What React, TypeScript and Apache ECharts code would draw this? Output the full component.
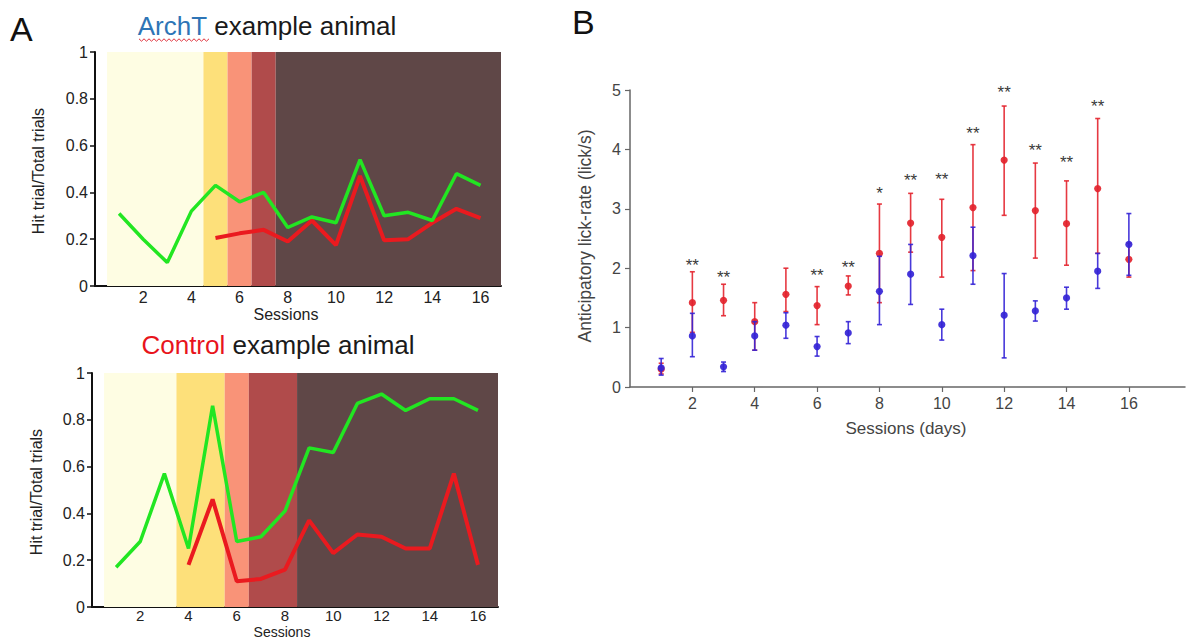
import React, { useEffect, useRef } from "react";
import * as echarts from "echarts";

// ---------- Panel A data ----------
const sessions = [1, 2, 3, 4, 5, 6, 7, 8, 9, 10, 11, 12, 13, 14, 15, 16];
const archtHitGreen = [0.31, 0.2, 0.1, 0.32, 0.43, 0.36, 0.4, 0.25, 0.295, 0.27, 0.54, 0.3, 0.315, 0.28, 0.48, 0.43];
const archtHitRed = [null, null, null, null, 0.205, 0.225, 0.24, 0.19, 0.28, 0.175, 0.47, 0.195, 0.2, 0.27, 0.33, 0.29];
const controlHitGreen = [0.17, 0.28, 0.57, 0.25, 0.86, 0.28, 0.3, 0.41, 0.68, 0.66, 0.87, 0.91, 0.84, 0.89, 0.89, 0.84];
const controlHitRed = [null, null, null, 0.18, 0.46, 0.11, 0.12, 0.16, 0.37, 0.23, 0.31, 0.3, 0.25, 0.25, 0.57, 0.18];
const archtBandEdges = [0.5, 4.5, 5.5, 6.5, 7.5, 16.85];
const controlBandEdges = [0.5, 3.5, 5.5, 6.5, 8.5, 16.83];
const bandColors = ["#fefde3", "#fde07a", "#f99378", "#b04b4b", "#5f4747"];
const aYTicks = [0, 0.2, 0.4, 0.6, 0.8, 1];
const aXTicks = [2, 4, 6, 8, 10, 12, 14, 16];

// ---------- Panel B data ----------
const ctrlMean = [0.3, 1.42, 1.46, 1.1, 1.56, 1.37, 1.7, 2.25, 2.76, 2.52, 3.02, 3.82, 2.97, 2.75, 3.34, 2.15];
const ctrlLow = [0.22, 0.92, 1.2, 0.62, 1.27, 1.05, 1.55, 1.42, 2.27, 1.85, 1.96, 2.89, 2.17, 2.05, 2.25, 1.85];
const ctrlHigh = [0.4, 1.94, 1.73, 1.42, 2.0, 1.69, 1.87, 3.08, 3.26, 3.16, 4.08, 4.73, 3.77, 3.47, 4.52, 2.42];
const archMean = [0.32, 0.86, 0.34, 0.86, 1.04, 0.68, 0.91, 1.61, 1.9, 1.05, 2.21, 1.21, 1.28, 1.5, 1.95, 2.4];
const archLow = [0.2, 0.51, 0.26, 0.62, 0.82, 0.52, 0.73, 1.05, 1.39, 0.79, 1.73, 0.49, 1.11, 1.31, 1.66, 1.88];
const archHigh = [0.48, 1.24, 0.42, 1.1, 1.25, 0.85, 1.1, 2.2, 2.4, 1.31, 2.69, 1.91, 1.45, 1.68, 2.25, 2.92];
const sigSessions = [2, 3, 6, 7, 8, 9, 10, 11, 12, 13, 14, 15];
const sigLabels = ["**", "**", "**", "**", "*", "**", "**", "**", "**", "**", "**", "**"];
const sigY = [2.12, 1.91, 1.94, 2.08, 3.32, 3.55, 3.56, 4.34, 5.03, 4.05, 3.85, 4.79];
const bYTicks = [0, 1, 2, 3, 4, 5];
const bXTicks = [2, 4, 6, 8, 10, 12, 14, 16];

const FONT = "'Liberation Sans', Arial, sans-serif";
const RED_LINE = "#ea1a1f";
const GREEN_LINE = "#22e622";
const RED_PT = "#e3232d";
const BLUE_PT = "#3424d6";

function bandsFrom(edges: number[]) {
  const out: number[][] = [];
  for (let i = 0; i < edges.length - 1; i++) out.push([edges[i], edges[i + 1], i]);
  return out;
}

function bandSeries(idx: number, edges: number[]) {
  return {
    type: "custom",
    xAxisIndex: idx,
    yAxisIndex: idx,
    z: 1,
    silent: true,
    data: bandsFrom(edges),
    renderItem: (params: any, api: any) => {
      const p0 = api.coord([api.value(0), 1]);
      const p1 = api.coord([api.value(1), 0]);
      return {
        type: "rect",
        shape: { x: p0[0], y: p0[1], width: p1[0] - p0[0], height: p1[1] - p0[1] },
        style: { fill: bandColors[api.value(2)] },
      };
    },
  };
}

function errSeries(name: string, color: string, mean: number[], low: number[], high: number[], z: number) {
  return {
    name,
    type: "custom",
    xAxisIndex: 2,
    yAxisIndex: 2,
    z,
    data: sessions.map((s, i) => [s, mean[i], low[i], high[i]]),
    renderItem: (params: any, api: any) => {
      const x = api.value(0);
      const pm = api.coord([x, api.value(1)]);
      const pl = api.coord([x, api.value(2)]);
      const ph = api.coord([x, api.value(3)]);
      const st = { stroke: color, lineWidth: 1.6, opacity: 0.9 };
      return {
        type: "group",
        children: [
          { type: "line", shape: { x1: pm[0], y1: pl[1], x2: pm[0], y2: ph[1] }, style: st },
          { type: "line", shape: { x1: pm[0] - 2.5, y1: pl[1], x2: pm[0] + 2.5, y2: pl[1] }, style: st },
          { type: "line", shape: { x1: pm[0] - 2.5, y1: ph[1], x2: pm[0] + 2.5, y2: ph[1] }, style: st },
          { type: "circle", shape: { cx: pm[0], cy: pm[1], r: 3.6 }, style: { fill: color, opacity: 0.92 } },
        ],
      };
    },
  };
}

function aXAxis(idx: number, max: number, margin: number, fontSize: number) {
  return {
    type: "value",
    gridIndex: idx,
    min: 0,
    max,
    interval: 2,
    axisLine: { show: true, onZero: false, lineStyle: { color: "#111", width: 2 } },
    axisTick: { show: false },
    splitLine: { show: false },
    axisLabel: { customValues: aXTicks, color: "#222", fontSize, lineHeight: fontSize, fontFamily: FONT, margin },
  };
}

function aYAxis(idx: number) {
  return {
    type: "value",
    gridIndex: idx,
    min: 0,
    max: 1,
    interval: 0.2,
    axisLine: { show: true, lineStyle: { color: "#111", width: 2 } },
    axisTick: { show: true, length: 5, lineStyle: { color: "#111", width: 1.5 } },
    splitLine: { show: false },
    axisLabel: {
      color: "#222",
      fontSize: 16,
      fontFamily: FONT,
      margin: 7,
      formatter: (v: number) => (aYTicks.some((t) => Math.abs(t - v) < 1e-6) ? String(Math.round(v * 10) / 10) : ""),
    },
  };
}

function lineSeries(idx: number, data: (number | null)[], color: string, width: number, z: number) {
  return {
    type: "line",
    xAxisIndex: idx,
    yAxisIndex: idx,
    z,
    showSymbol: false,
    symbol: "none",
    connectNulls: false,
    lineStyle: { color, width },
    data: sessions.map((s, i) => [s, data[i]]),
  };
}

function squiggle(x0: number, x1: number, y: number) {
  const pts: number[][] = [];
  let up = true;
  for (let x = x0; x <= x1; x += 2.5) {
    pts.push([x, up ? y - 1.2 : y + 1.2]);
    up = !up;
  }
  return pts;
}

export default function App() {
  const ref = useRef<HTMLDivElement>(null);
  useEffect(() => {
    if (!ref.current) return;
    const chart = echarts.init(ref.current, null, { renderer: "svg" });
    const option: any = {
      animation: false,
      backgroundColor: "#ffffff",
      grid: [
        { left: 95, top: 52, width: 406, height: 234 },
        { left: 92, top: 373, width: 406, height: 234 },
        { left: 630, top: 90, width: 555, height: 297 },
      ],
      xAxis: [
        aXAxis(0, 16.85, 3, 16),
        aXAxis(1, 16.83, 1, 15),
        {
          type: "value",
          gridIndex: 2,
          min: 0,
          max: 17.8,
          interval: 2,
          axisLine: { show: true, onZero: false, lineStyle: { color: "#666", width: 1.5 } },
          axisTick: { show: true, customValues: bXTicks, length: 5, lineStyle: { color: "#666", width: 1.2 } },
          splitLine: { show: false },
          axisLabel: { customValues: bXTicks, color: "#444", fontSize: 16, fontFamily: FONT, margin: 8 },
        },
      ],
      yAxis: [
        aYAxis(0),
        aYAxis(1),
        {
          type: "value",
          gridIndex: 2,
          min: 0,
          max: 5,
          interval: 1,
          axisLine: { show: true, lineStyle: { color: "#666", width: 1.5 } },
          axisTick: { show: true, length: 5, lineStyle: { color: "#666", width: 1.2 } },
          splitLine: { show: false },
          axisLabel: { color: "#444", fontSize: 16, fontFamily: FONT, margin: 9 },
        },
      ],
      series: [
        bandSeries(0, archtBandEdges),
        bandSeries(1, controlBandEdges),
        lineSeries(0, archtHitRed, RED_LINE, 4, 3),
        lineSeries(0, archtHitGreen, GREEN_LINE, 3.5, 4),
        lineSeries(1, controlHitRed, RED_LINE, 4, 3),
        lineSeries(1, controlHitGreen, GREEN_LINE, 3.5, 4),
        errSeries("Control", RED_PT, ctrlMean, ctrlLow, ctrlHigh, 3),
        errSeries("ArchT", BLUE_PT, archMean, archLow, archHigh, 4),
        {
          type: "custom",
          xAxisIndex: 2,
          yAxisIndex: 2,
          z: 5,
          data: sigSessions.map((s, i) => [s, sigY[i], i]),
          renderItem: (params: any, api: any) => {
            const p = api.coord([api.value(0), api.value(1)]);
            return {
              type: "text",
              x: p[0],
              y: p[1] + 4,
              style: {
                text: sigLabels[api.value(2)],
                fill: "#3a3a3a",
                font: `17px ${FONT}`,
                align: "center",
                verticalAlign: "middle",
              },
            };
          },
        },
      ],
      graphic: [
        { type: "text", x: 10, y: 29, style: { text: "A", fill: "#111", font: `34px ${FONT}`, align: "left", verticalAlign: "middle" } },
        { type: "text", x: 572, y: 22, style: { text: "B", fill: "#111", font: `34px ${FONT}`, align: "left", verticalAlign: "middle" } },
        {
          type: "text",
          x: 267,
          y: 26,
          style: {
            text: "{a|ArchT} {b|example animal}",
            align: "center",
            verticalAlign: "middle",
            font: `26px ${FONT}`,
            rich: {
              a: { fill: "#2e75b6", fontSize: 26, fontFamily: FONT },
              b: { fill: "#1a1a1a", fontSize: 26, fontFamily: FONT },
            },
          },
        },
        {
          type: "polyline",
          shape: { points: squiggle(139, 209, 40) },
          style: { stroke: "#e0303a", lineWidth: 1, fill: null },
        },
        {
          type: "text",
          x: 278,
          y: 345,
          style: {
            text: "{a|Control} {b|example animal}",
            align: "center",
            verticalAlign: "middle",
            font: `26px ${FONT}`,
            rich: {
              a: { fill: "#e8141c", fontSize: 26, fontFamily: FONT },
              b: { fill: "#1a1a1a", fontSize: 26, fontFamily: FONT },
            },
          },
        },
        { type: "text", x: 38, y: 171, rotation: Math.PI / 2, style: { text: "Hit trial/Total trials", fill: "#222", font: `16px ${FONT}`, align: "center", verticalAlign: "middle" } },
        { type: "text", x: 36, y: 492, rotation: Math.PI / 2, style: { text: "Hit trial/Total trials", fill: "#222", font: `16px ${FONT}`, align: "center", verticalAlign: "middle" } },
        { type: "text", x: 286, y: 314, style: { text: "Sessions", fill: "#222", font: `16px ${FONT}`, align: "center", verticalAlign: "middle" } },
        { type: "text", x: 282, y: 632, style: { text: "Sessions", fill: "#222", font: `14px ${FONT}`, align: "center", verticalAlign: "middle" } },
        { type: "text", x: 585, y: 236, rotation: Math.PI / 2, style: { text: "Anticipatory lick-rate (lick/s)", fill: "#444", font: `17.5px ${FONT}`, align: "center", verticalAlign: "middle" } },
        { type: "text", x: 906, y: 428, style: { text: "Sessions (days)", fill: "#444", font: `17px ${FONT}`, align: "center", verticalAlign: "middle" } },
      ],
    };
    chart.setOption(option);
    return () => chart.dispose();
  }, []);
  return <div ref={ref} style={{ position: "absolute", left: 0, top: 0, width: 1189, height: 640 }} />;
}
